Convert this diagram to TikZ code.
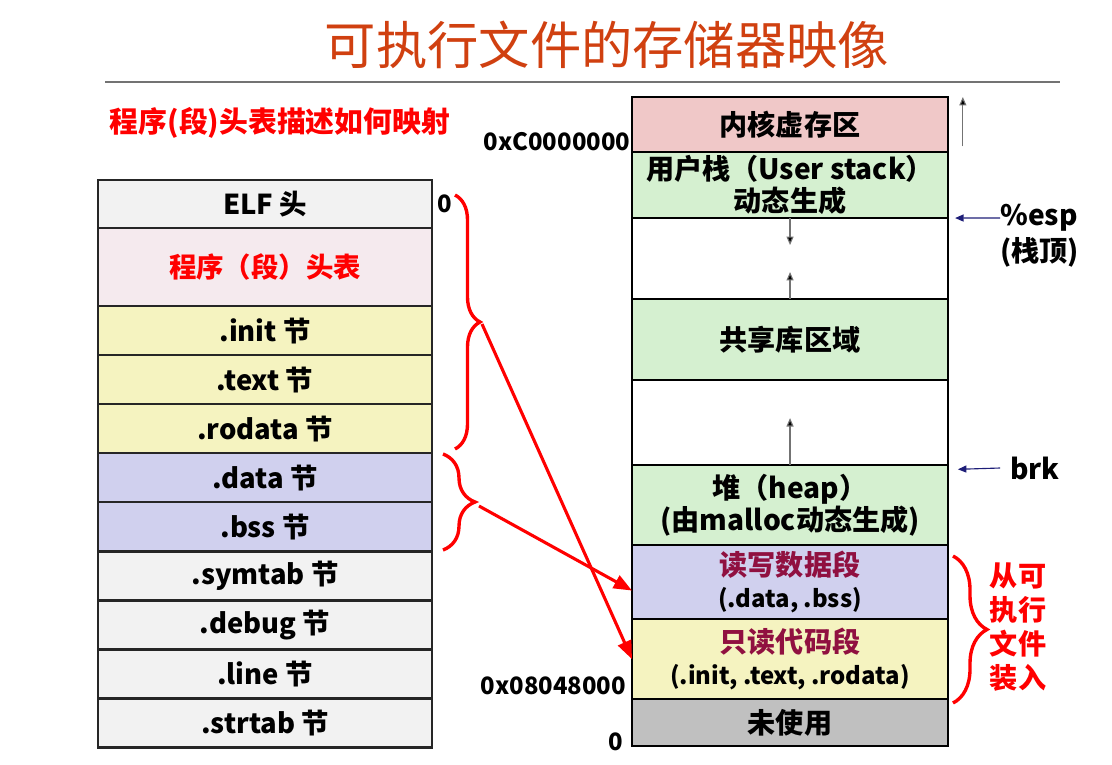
\documentclass[tikz,border=0pt]{standalone}
\usepackage{fontspec}
\setmainfont{Noto Sans CJK SC}
\usetikzlibrary{
  arrows.meta,
  decorations.pathreplacing,
  positioning
}

\definecolor{titlered}{RGB}{208,64,16}
\definecolor{darkmag}{RGB}{144,16,64}
\definecolor{elfgray}{RGB}{242,242,242}
\definecolor{phtpink}{RGB}{245,234,238}
\definecolor{codeyel}{RGB}{245,243,192}
\definecolor{datablue}{RGB}{208,208,238}
\definecolor{kernpink}{RGB}{240,200,200}
\definecolor{dyngreen}{RGB}{213,240,208}
\definecolor{unusedgray}{RGB}{192,192,192}
\definecolor{ptrnavy}{RGB}{30,30,120}

\begin{document}
\begin{tikzpicture}[>=Stealth, x=0.025cm, y=-0.025cm,
  filesec/.style={draw=black!85, line width=2pt, outer sep=0pt, inner sep=0pt,
    minimum width=8.35cm, minimum height=1.225cm,
    font=\fontsize{19.5}{22}\selectfont\bfseries},
  memseg/.style={draw=black, line width=1pt, outer sep=0pt, inner sep=0pt,
    minimum width=7.9cm, align=center,
    font=\fontsize{20}{23}\selectfont\bfseries},
  addr/.style={font=\fontsize{17}{20}\selectfont\bfseries, inner sep=1pt},
  sidelabel/.style={font=\fontsize{20}{24}\selectfont\bfseries, inner sep=0pt},
  redbrace/.style={red, line width=2.4pt, decorate},
  maparrow/.style={red, line width=2.2pt, -{Triangle[length=13pt,width=10pt]}},
  growarrow/.style={black!55, line width=0.8pt, -{Triangle[length=6pt,width=5pt,fill=black]}},
  ptrarrow/.style={ptrnavy, line width=0.8pt, -{Triangle[length=6pt,width=5pt]}}
]
\useasboundingbox (0,0) rectangle (1112,764);

%--------------------
% 标题
%--------------------
\node[titlered, font=\fontsize{36.5}{40}\selectfont] (title) at (607,45) {可执行文件的存储器映像};
\draw[black!55, line width=1.2pt] (105,82) -- (1060,82);

\node[red, font=\fontsize{20.5}{24}\selectfont\bfseries] (note) at (280,123) {程序(段)头表描述如何映射};

%--------------------
% ELF 可执行文件
%--------------------
\node[filesec, fill=elfgray, minimum height=1.2cm, anchor=north west] (elf) at (98,180) {ELF 头};
\node[filesec, fill=phtpink, minimum height=1.95cm, text=red, below=0pt of elf] (pht) {程序（段）头表};
\node[filesec, fill=codeyel, below=0pt of pht] (init) {.init 节};
\node[filesec, fill=codeyel, below=0pt of init] (text) {.text 节};
\node[filesec, fill=codeyel, below=0pt of text] (rodata) {.rodata 节};
\node[filesec, fill=datablue, below=0pt of rodata] (data) {.data 节};
\node[filesec, fill=datablue, below=0pt of data] (bss) {.bss 节};
\node[filesec, fill=elfgray, below=0pt of bss] (symtab) {.symtab 节};
\node[filesec, fill=elfgray, below=0pt of symtab] (debug) {.debug 节};
\node[filesec, fill=elfgray, below=0pt of debug] (line) {.line 节};
\node[filesec, fill=elfgray, below=0pt of line] (strtab) {.strtab 节};

\node[addr, anchor=west] (zeroL) at ([xshift=3pt]elf.east) {0};

%--------------------
% 虚拟地址空间
%--------------------
\node[memseg, fill=kernpink, minimum height=1.375cm, anchor=north west] (kern) at (632,97) {内核虚存区};
\node[memseg, fill=dyngreen, minimum height=1.65cm, below=0pt of kern] (stack) {用户栈（User stack）\\动态生成};
\node[memseg, fill=white, minimum height=2.025cm, below=0pt of stack] (gapA) {};
\node[memseg, fill=dyngreen, minimum height=2.025cm, below=0pt of gapA] (shlib) {共享库区域};
\node[memseg, fill=white, minimum height=2.125cm, below=0pt of shlib] (gapB) {};
\node[memseg, fill=dyngreen, minimum height=2.0cm, below=0pt of gapB] (heap) {堆（heap）\\(由malloc动态生成)};
\node[memseg, fill=datablue, minimum height=1.85cm, below=0pt of heap] (rw)
  {{\color{darkmag}读写数据段}\\{\fontsize{17}{20}\selectfont(.data, .bss)}};
\node[memseg, fill=codeyel, minimum height=2.0cm, below=0pt of rw] (ro)
  {{\color{darkmag}只读代码段}\\{\fontsize{17}{20}\selectfont(.init, .text, .rodata)}};
\node[memseg, fill=unusedgray, minimum height=1.175cm, below=0pt of ro] (unused) {未使用};

% 地址
\node[addr, anchor=base east] (kaddr) at ([yshift=1pt]kern.south west) {0xC0000000};
\node[addr, anchor=base east] (taddr) at ([xshift=-3pt,yshift=3pt]ro.south west) {0x08048000};
\node[addr, anchor=base east] (zeroR) at ([xshift=-5pt,yshift=-3pt]unused.south west) {0};

% 栈和堆的增长方向
\draw[growarrow] ([xshift=10.5pt,yshift=4pt]kern.south east) -- ([xshift=10.5pt]kern.north east);
\draw[growarrow] (gapA.north) -- ++(0,27);
\draw[growarrow] (gapA.south) -- ++(0,-27);
\draw[growarrow] (gapB.south) -- ++(0,-47);

% 栈顶和 brk
\node[sidelabel, anchor=west] (esp) at (1000,218) {\%esp};
\node[sidelabel, anchor=north west] (esptop) at ([yshift=-4pt]esp.south west) {(栈顶)};
\draw[ptrarrow] (esp.west) -- ([xshift=5pt]gapA.north east);

\node[sidelabel, anchor=west] (brk) at (1010,468) {brk};
\draw[ptrarrow] ([xshift=-7pt]brk.west) -- ([xshift=7pt,yshift=-3pt]gapB.south east);

%--------------------
% 大括号和映射
%--------------------
\draw[redbrace, decoration={brace, amplitude=0.625cm}] (455,195) -- (455,449);
\draw[redbrace, decoration={brace, amplitude=0.8cm}] (443,454) -- (443,550);
\draw[redbrace, decoration={brace, amplitude=0.85cm}] (953,556) -- (953,703);

\coordinate (tipA) at (482,324);
\coordinate (tipB) at (479,506);
\draw[maparrow] (tipA) -- (ro.west);
\draw[maparrow] (tipB) -- ([yshift=-6pt]rw.west);

\node[red, sidelabel, align=center] (load) at (1018,627) {从可\\执行\\文件\\装入};

\end{tikzpicture}
\end{document}
